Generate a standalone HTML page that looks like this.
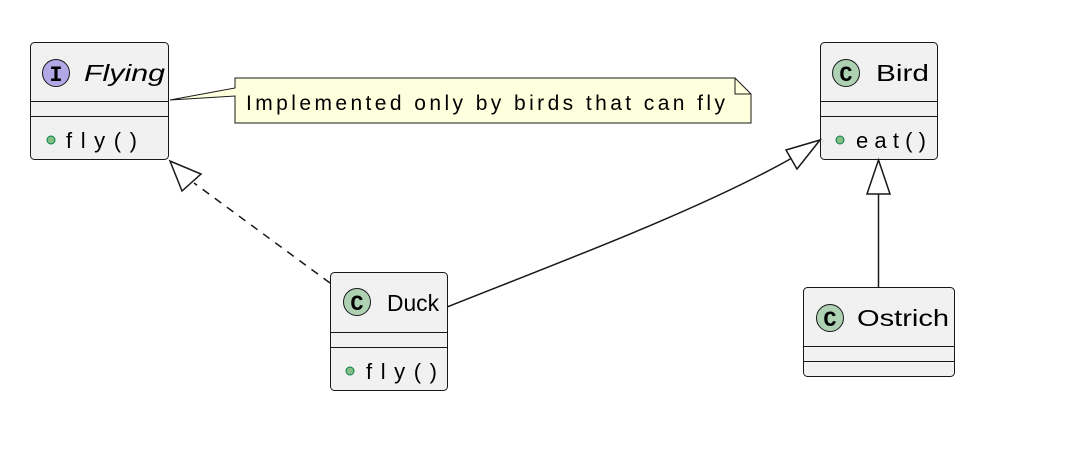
<!DOCTYPE html>
<html><head><meta charset="utf-8"><style>html,body{margin:0;padding:0;background:#fff}svg{display:block}</style></head><body>
<svg width="1069" height="464" viewBox="0 0 1069 464" xmlns="http://www.w3.org/2000/svg" font-family="Liberation Sans, sans-serif">
<g stroke="#181818" stroke-width="1" fill="#F1F1F1">
<rect x="30.5" y="42.5" width="138" height="117" rx="4"/>
<rect x="330.5" y="272.5" width="117" height="118" rx="4"/>
<rect x="820.5" y="42.5" width="117" height="117" rx="4"/>
<rect x="803.5" y="287.5" width="151" height="89" rx="4"/>
</g>
<g stroke="#181818" stroke-width="1">
<line x1="31" y1="101.5" x2="168" y2="101.5"/><line x1="31" y1="116.5" x2="168" y2="116.5"/>
<line x1="331" y1="332.5" x2="447" y2="332.5"/><line x1="331" y1="347.5" x2="447" y2="347.5"/>
<line x1="821" y1="101.5" x2="937" y2="101.5"/><line x1="821" y1="116.5" x2="937" y2="116.5"/>
<line x1="804" y1="346.5" x2="954" y2="346.5"/><line x1="804" y1="361.5" x2="954" y2="361.5"/>
</g>
<g stroke="#181818" stroke-width="1">
<circle cx="56" cy="73" r="13.5" fill="#B4A7E5"/>
<circle cx="357" cy="302" r="13.5" fill="#ADD1B2"/>
<circle cx="846" cy="73" r="13.5" fill="#ADD1B2"/>
<circle cx="830" cy="318" r="13.5" fill="#ADD1B2"/>
</g>
<g font-family="Liberation Mono, monospace" font-weight="bold" font-size="22" text-anchor="middle" fill="#000">
<text x="56" y="81">I</text><text x="357" y="310">C</text><text x="846" y="81">C</text><text x="830" y="326">C</text>
</g>
<g fill="#000" font-size="23">
<text x="84" y="81" font-style="italic" textLength="81" lengthAdjust="spacingAndGlyphs">Flying</text>
<text x="387" y="311" textLength="52" lengthAdjust="spacingAndGlyphs">Duck</text>
<text x="876" y="81" textLength="53" lengthAdjust="spacingAndGlyphs">Bird</text>
<text x="857" y="326" textLength="92" lengthAdjust="spacingAndGlyphs">Ostrich</text>
</g>
<g fill="#84BE84" stroke="#038048" stroke-width="1">
<circle cx="51" cy="140" r="4"/><circle cx="350" cy="371" r="4"/><circle cx="840" cy="140" r="4"/>
</g>
<g fill="#000" font-size="22">
<text x="66" y="148" textLength="71" lengthAdjust="spacing">fly()</text>
<text x="366" y="379" textLength="71" lengthAdjust="spacing">fly()</text>
<text x="856" y="148" textLength="70" lengthAdjust="spacing">eat()</text>
</g>
<path d="M170,100 L235,88 L235,78 L735,78 L751,94 L751,123 L235,123 L235,96 Z" fill="#FEFFDD" stroke="#181818" stroke-width="1"/>
<path d="M735,78 L735,94 L751,94" fill="none" stroke="#181818" stroke-width="1"/>
<text x="246" y="110" font-size="21" fill="#000" textLength="479" lengthAdjust="spacing">Implemented only by birds that can fly</text>
<line x1="330" y1="283" x2="194" y2="183" stroke="#181818" stroke-width="1.5" stroke-dasharray="8,7"/>
<polygon points="170,161 182,191 201,174" fill="#fff" stroke="#181818" stroke-width="1.5"/>
<path d="M447,307 C560,262 700,210 792,158" fill="none" stroke="#181818" stroke-width="1.5"/>
<polygon points="820,140 786,150 797,169" fill="#fff" stroke="#181818" stroke-width="1.5"/>
<line x1="878.5" y1="194" x2="878.5" y2="287" stroke="#181818" stroke-width="1.5"/>
<polygon points="878.5,160 867,194 890,194" fill="#fff" stroke="#181818" stroke-width="1.5"/>
</svg>
</body></html>
